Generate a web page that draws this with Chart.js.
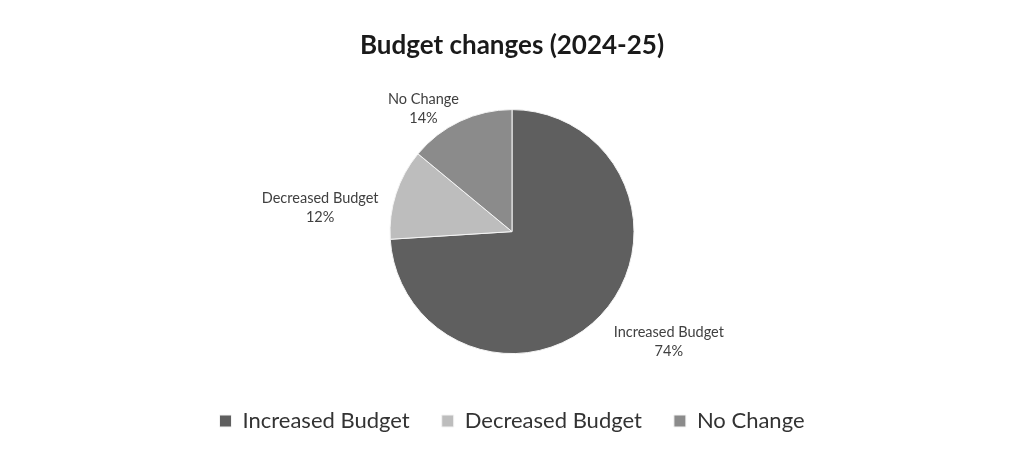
<!DOCTYPE html>
<html>
<head>
<meta charset="utf-8">
<script src="https://cdn.jsdelivr.net/npm/chart.js@4"></script>
<style>
  html, body { margin: 0; padding: 0; background: #ffffff; }
  #wrap { width: 1024px; height: 458px; }
</style>
</head>
<body>
<div id="wrap"><canvas id="budgetChart" width="1024" height="458"></canvas></div>
<script>
// Chart data
const categories = ['Increased Budget', 'Decreased Budget', 'No Change'];
const shares = [74, 12, 14];
const sliceColors = ['#5f5f5f', '#bdbdbd', '#8b8b8b'];

// small nudges for the outside labels (px), Excel "best fit" style
const labelNudge = [[4, 18], [-6, 18], [4, -2]];

const FONT = 'Lato, "Open Sans", sans-serif';

// Draws "Category / xx%" labels outside each slice
const outsideLabels = {
  id: 'outsideLabels',
  afterDatasetsDraw(chart) {
    const ctx = chart.ctx;
    const meta = chart.getDatasetMeta(0);
    ctx.save();
    ctx.font = '14.5px ' + FONT;
    ctx.fillStyle = '#404040';
    ctx.textBaseline = 'middle';
    meta.data.forEach((arc, i) => {
      const p = arc.getProps(['x', 'y', 'startAngle', 'endAngle', 'outerRadius']);
      const mid = (p.startAngle + p.endAngle) / 2;
      const r = p.outerRadius + 12;
      const ax = p.x + Math.cos(mid) * r;
      const ay = p.y + Math.sin(mid) * r;
      const lines = [categories[i], shares[i] + '%'];
      const w = Math.max(...lines.map(t => ctx.measureText(t).width));
      const right = Math.cos(mid) >= 0;
      const cx = (right ? ax + w / 2 : ax - w / 2) + labelNudge[i][0];
      const cy = ay + labelNudge[i][1];
      ctx.textAlign = 'center';
      ctx.fillText(lines[0], cx, cy - 9.5);
      ctx.fillText(lines[1], cx, cy + 9.5);
    });
    ctx.restore();
  }
};

new Chart(document.getElementById('budgetChart'), {
  type: 'pie',
  data: {
    labels: categories,
    datasets: [{
      data: shares,
      backgroundColor: sliceColors,
      borderColor: '#f4f4f4',
      borderWidth: 1
    }]
  },
  options: {
    responsive: false,
    animation: false,
    radius: 122,
    layout: { padding: { top: 10, bottom: 16 } },
    plugins: {
      title: {
        display: true,
        text: 'Budget changes (2024-25)',
        color: '#1a1a1a',
        font: { family: FONT, size: 26, weight: 'bold' },
        padding: { top: 20, bottom: 24 }
      },
      legend: {
        position: 'bottom',
        labels: {
          color: '#333333',
          font: { family: FONT, size: 22 },
          boxWidth: 12,
          boxHeight: 12,
          padding: 32
        }
      },
      tooltip: { enabled: false }
    }
  },
  plugins: [outsideLabels]
});
</script>
</body>
</html>
